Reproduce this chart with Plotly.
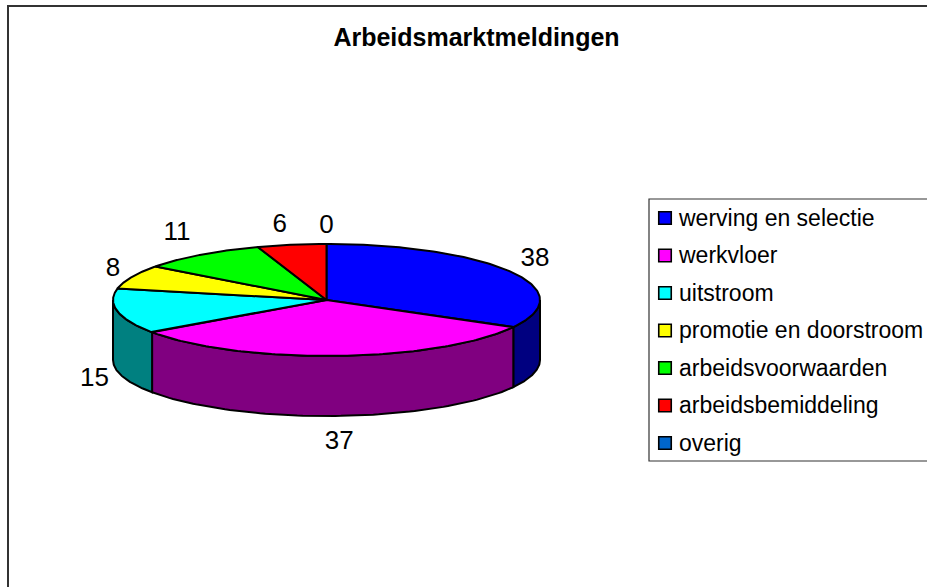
import numpy as np
import plotly.graph_objects as go

categories = ["werving en selectie", "werkvloer", "uitstroom", "promotie en doorstroom",
              "arbeidsvoorwaarden", "arbeidsbemiddeling", "overig"]
values = [38, 37, 15, 8, 11, 6, 0]
top_colors = ["#0000FF", "#FF00FF", "#00FFFF", "#FFFF00", "#00FF00", "#FF0000", "#0066CC"]
wall_colors = ["#000080", "#800080", "#008080", "#808000", "#008000", "#800000", "#003366"]

W, H = 927, 587
CX, CY, RX, RY, DEPTH = 326.5, 300, 213.5, 56, 60
# per-label offsets (pixels) from the rim point at the slice's middle angle
label_nudges = [(24.6, -11.6), (1, 87), (-23, 68), (-19, -7), (-24, -21), (-12, -19), (0, -18)]
LEGEND_ROWS_Y = [218, 255.5, 293, 330.5, 368, 405.5, 443]
LEGEND_TEXT_SHIFT = 2
INK = "#000000"
FRAME = "#333333"
FONT = "Liberation Sans, Arial, sans-serif"


def rim(theta, dy=0.0):
    return CX + RX * np.sin(theta), CY - RY * np.cos(theta) + dy


fig = go.Figure()
cum = np.concatenate([[0], np.cumsum(values)]) / sum(values) * 2 * np.pi

# side walls: only the front half of the cylinder is visible
for i in range(len(values)):
    a = max(cum[i], np.pi / 2)
    b = min(cum[i + 1], 3 * np.pi / 2)
    if b <= a:
        continue
    t = np.linspace(a, b, 80)
    x1, y1 = rim(t)
    x2, y2 = rim(t[::-1], DEPTH)
    fig.add_trace(go.Scatter(
        x=np.concatenate([x1, x2, x1[:1]]), y=np.concatenate([y1, y2, y1[:1]]),
        mode="lines", fill="toself", fillcolor=wall_colors[i],
        line=dict(color=INK, width=2), hoverinfo="skip", showlegend=False))

# top face slices
for i in range(len(values)):
    if values[i] == 0:
        continue
    t = np.linspace(cum[i], cum[i + 1], 120)
    x1, y1 = rim(t)
    fig.add_trace(go.Scatter(
        x=np.concatenate([[CX], x1, [CX]]), y=np.concatenate([[CY], y1, [CY]]),
        mode="lines", fill="toself", fillcolor=top_colors[i],
        line=dict(color=INK, width=2), hoverinfo="skip", showlegend=False))

# data labels
mid = (cum[:-1] + cum[1:]) / 2
lx, ly = rim(mid)
fig.add_trace(go.Scatter(
    x=lx + np.array([n[0] for n in label_nudges]),
    y=ly + np.array([n[1] for n in label_nudges]),
    mode="text", text=[str(v) for v in values],
    textposition="middle center",
    textfont=dict(family=FONT, size=26, color="#000000"),
    hoverinfo="skip", showlegend=False))

# legend entries
fig.add_trace(go.Scatter(
    x=[665] * len(categories), y=LEGEND_ROWS_Y,
    mode="markers", marker=dict(symbol="square", size=12.5, color=top_colors,
                                line=dict(color=INK, width=1.6)),
    hoverinfo="skip", showlegend=False))
fig.add_trace(go.Scatter(
    x=[679] * len(categories), y=[y + LEGEND_TEXT_SHIFT for y in LEGEND_ROWS_Y],
    mode="text", text=categories, textposition="middle right",
    textfont=dict(family=FONT, size=23, color="#000000"),
    hoverinfo="skip", showlegend=False))

fig.update_layout(
    width=W, height=H, autosize=False,
    margin=dict(l=0, r=0, t=0, b=0),
    paper_bgcolor="white", plot_bgcolor="white",
    title=dict(text="<b>Arbeidsmarktmeldingen</b>", x=476.5 / W, y=1 - 37 / H,
               xanchor="center", yanchor="middle",
               font=dict(family=FONT, size=25, color="#000000")),
    xaxis=dict(range=[0, W], visible=False, fixedrange=True),
    yaxis=dict(range=[H, 0], visible=False, fixedrange=True),
    shapes=[
        dict(type="rect", xref="x", yref="y", x0=8, y0=6, x1=W + 50, y1=H + 50,
             line=dict(color=FRAME, width=2), layer="below"),
        dict(type="rect", xref="x", yref="y", x0=649, y0=199, x1=W + 50, y1=461,
             line=dict(color=FRAME, width=1.2), layer="below"),
    ],
)
fig.write_html("out.html", config={"displayModeBar": False},
               post_script="document.body.style.margin='0';document.documentElement.style.overflow='hidden';")
